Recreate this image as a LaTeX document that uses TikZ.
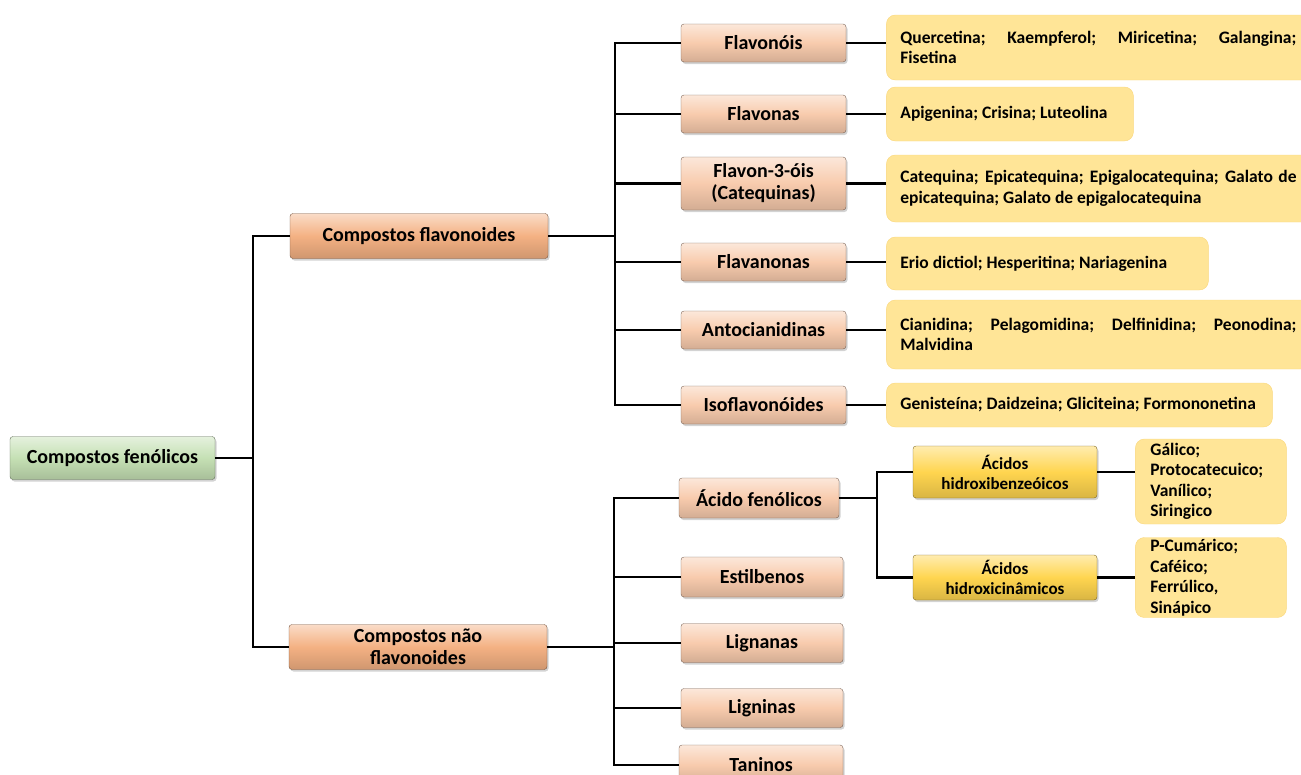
\documentclass[tikz,border=0pt]{standalone}
\usepackage{fontspec}
\setmainfont{Carlito}
\usetikzlibrary{positioning,shadows}

\definecolor{verde}{HTML}{C5E0B4}
\definecolor{laranja}{HTML}{F4B183}
\definecolor{pessego}{HTML}{F8CBAD}
\definecolor{ouro}{HTML}{FFD54F}
\definecolor{creme}{HTML}{FFE597}
\definecolor{cremeborda}{HTML}{FAD77C}

\begin{document}
\begin{tikzpicture}[x=1pt, y=-1pt,
    box/.style={rounded corners=3pt, inner sep=0pt, align=center, draw=#1!50!black,
        top color=#1!45!white, bottom color=#1!85!black, middle color=#1,
        drop shadow={shadow xshift=1.5pt, shadow yshift=-2pt, opacity=0.35},
        font=\fontsize{20}{22}\selectfont\bfseries},
    cat/.style={box=pessego, minimum width=165pt, minimum height=38pt},
    acido/.style={box=ouro, minimum width=184pt, font=\fontsize{17}{20}\selectfont\bfseries},
    lista/.style={draw=cremeborda, fill=creme, rounded corners=9pt, inner xsep=14pt,
        inner ysep=0pt, align=justify, font=\fontsize{17.5}{20.5}\selectfont\bfseries},
    link/.style={draw, line width=2.2pt}
]
    \useasboundingbox (0,0) rectangle (1301,774);
    \hyphenpenalty=10000

    % Root and the two main groups
    \node[box=verde, minimum width=205pt, minimum height=43pt] (root) at (112.5,458) {Compostos fenólicos};
    \node[box=laranja, minimum width=258pt, minimum height=45pt] (flavon) at (419,236) {Compostos flavonoides};
    \node[box=laranja, minimum width=258pt, minimum height=45pt] (naoflav) at (418,647) {Compostos não\\flavonoides};

    % Flavonoid classes
    \node[cat] (flavonois) at (763.5,43) {Flavonóis};
    \node[cat] (flavonas) at (763.5,114) {Flavonas};
    \node[cat, minimum height=53pt] (catequinas) at (763.5,183.5) {Flavon-3-óis\\(Catequinas)};
    \node[cat] (flavanonas) at (763.5,262) {Flavanonas};
    \node[cat] (antocian) at (763.5,330) {Antocianidinas};
    \node[cat] (isoflav) at (763.5,405) {Isoflavonóides};

    % Examples of each class
    \node[lista, text width=396pt, minimum height=65pt, right=40pt of flavonois, yshift=-4.5pt] (l_flavonois)
        {Quercetina; Kaempferol; Miricetina; Galangina;\linebreak Fisetina};
    \node[lista, text width=219pt, minimum height=54pt, right=40pt of flavonas] (l_flavonas)
        {Apigenina; Crisina; Luteolina};
    \node[lista, text width=396pt, minimum height=67pt, right=40pt of catequinas, yshift=-5pt] (l_catequinas)
        {Catequina; Epicatequina; Epigalocatequina; Galato de\linebreak epicatequina; Galato de epigalocatequina};
    \node[lista, text width=294pt, minimum height=53pt, right=40pt of flavanonas, yshift=-1.5pt] (l_flavanonas)
        {Erio dictiol; Hesperitina; Nariagenina};
    \node[lista, text width=396pt, minimum height=69pt, right=40pt of antocian, yshift=-4.5pt] (l_antocian)
        {Cianidina; Pelagomidina; Delfinidina; Peonodina;\linebreak Malvidina};
    \node[lista, text width=358pt, minimum height=44pt, right=40pt of isoflav] (l_isoflav)
        {Genisteína; Daidzeina; Gliciteina; Formononetina};

    % Non-flavonoid classes
    \node[cat, minimum width=160pt, minimum height=40pt] (acidos) at (759,498) {Ácido fenólicos};
    \node[cat, minimum width=162pt, minimum height=40pt] (estilb) at (762,577) {Estilbenos};
    \node[cat, minimum width=162pt, minimum height=39pt] (lignanas) at (762,643) {Lignanas};
    \node[cat, minimum width=162pt, minimum height=39pt] (ligninas) at (762,708) {Ligninas};
    \node[cat, minimum width=164pt, minimum height=40pt] (taninos) at (761,765) {Taninos};

    % Phenolic acids
    \node[acido, minimum height=52pt] (hb) at (1005,472) {Ácidos\\hidroxibenzeóicos};
    \node[acido, minimum height=45pt] (hc) at (1005,577.5) {Ácidos\\hidroxicinâmicos};
    \node[lista, inner xsep=15pt, text width=121pt, minimum height=85pt, align=left,
        right=38pt of hb, yshift=-9.5pt] (l_hb)
        {Gálico;\\Protocatecuico;\\Vanílico;\\Siringico};
    \node[lista, inner xsep=15pt, text width=121pt, minimum height=80pt, align=left,
        right=38pt of hc] (l_hc)
        {P-Cumárico;\\Caféico;\\Ferrúlico,\\Sinápico};

    % Connections
    \path[link] (root.east) -- ++(38,0) |- (flavon.west);
    \path[link] (root.east) -- ++(38,0) |- (naoflav.west);
    \foreach \n in {flavonois,flavonas,catequinas,flavanonas,antocian,isoflav} {
        \path[link] (flavon.east) -- ++(67,0) |- (\n.west);
        \path[link] (\n.east) -- (\n.east -| l_\n.west);
    }
    \foreach \n in {acidos,estilb,lignanas,ligninas,taninos}
        \path[link] (naoflav.east) -- ++(67,0) |- (\n.west);
    \path[link] (acidos.east) -- ++(38,0) |- (hb.west);
    \path[link] (acidos.east) -- ++(38,0) |- (hc.west);
    \path[link] (hb.east) -- (hb.east -| l_hb.west);
    \path[link] (hc.east) -- (hc.east -| l_hc.west);

\end{tikzpicture}
\end{document}
